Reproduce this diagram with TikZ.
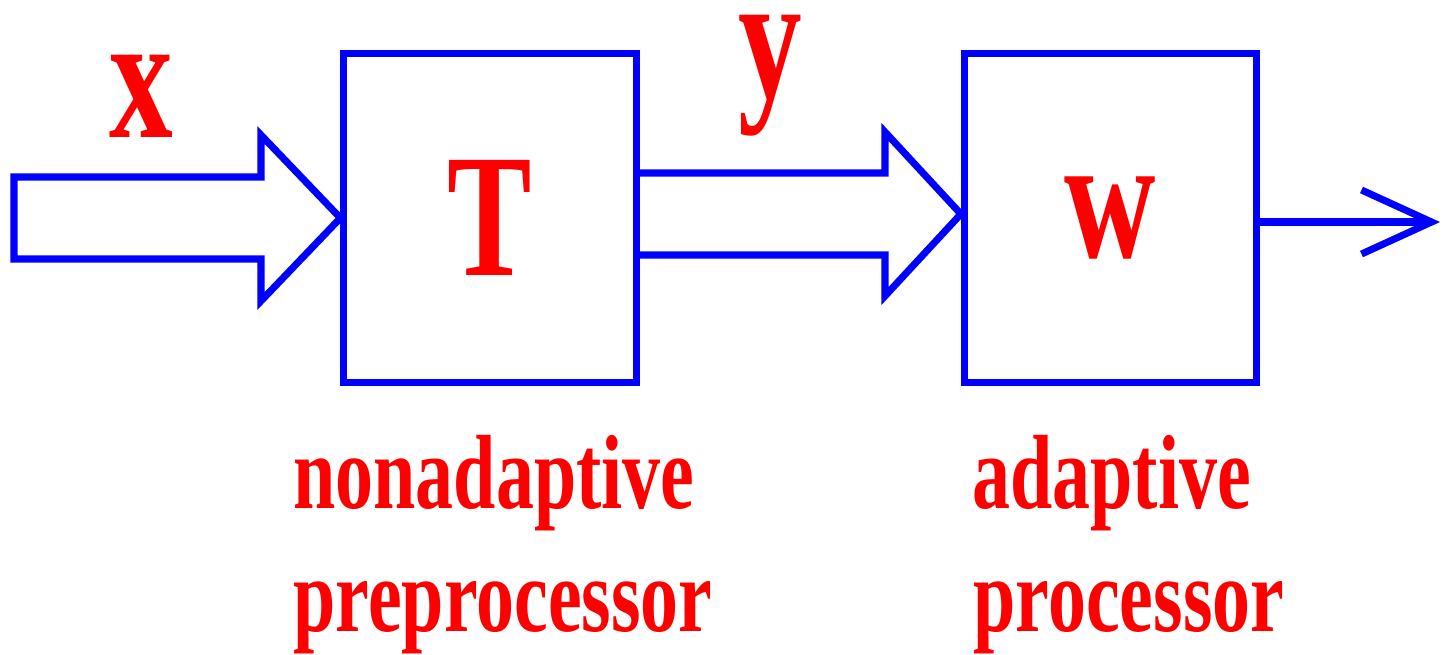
\documentclass[tikz,border=0pt]{standalone}
\usepackage{fontspec}
\setmainfont{Liberation Serif}
\usetikzlibrary{arrows.meta,positioning}
\definecolor{flowBlue}{RGB}{0,0,255}
\definecolor{labelRed}{RGB}{255,0,0}

\begin{document}
\begin{tikzpicture}[x=0.01cm,y=-0.01cm,
    block/.style={draw=flowBlue,line width=2pt,minimum width=2.92cm,minimum height=3.28cm,inner sep=0pt,
      text=labelRed,font=\fontsize{50}{50}\selectfont\bfseries},
    hollow/.style={draw=flowBlue,line width=2pt,line join=miter},
    sig/.style={text=labelRed,font=\fontsize{51}{51}\selectfont\bfseries,xscale=0.71,inner sep=0pt,anchor=base},
    lbl/.style={text=labelRed,font=\fontsize{30}{30}\selectfont\bfseries,xscale=0.72,inner sep=0pt,anchor=base west}]
        \useasboundingbox (0,0) rectangle (1445,654);
        % the two processors
        \node[block] (T) at (490,218) {\scalebox{0.72}[1]{T}};
        \node[block] (W) at (1110.5,218) {\scalebox{0.72}[1]{w}};
        % input x: hollow arrow into T
        \draw[hollow] (14,177) -- (261,177) -- (261,135) -- (T.west) -- (261,301)
          -- (261,259) -- (14,259) -- cycle;
        % y: hollow arrow from T to W
        \draw[hollow] (T.east |- 0,173) -- (885,173) -- (885,132) -- (W.west |- 0,214)
          -- (885,296) -- (885,255) -- (T.east |- 0,255);
        % output
        \coordinate (out) at (1440,222);
        \draw[flowBlue,line width=2pt,-{Straight Barb[length=7mm,width=6.4mm]}] (W.east |- out) -- (out);
        % signal names
        \node[sig] (x) at (141,137) {x};
        \node[sig] (y) at (770,97) {y};
        % captions
        \node[lbl] (nonad) at (293,508) {nonadaptive};
        \node[lbl] (prep) at (293,631) {preprocessor};
        \node[lbl] (adap) at (972,508) {adaptive};
        \node[lbl] (proc) at (973,631) {processor};
      \end{tikzpicture}
\end{document}
